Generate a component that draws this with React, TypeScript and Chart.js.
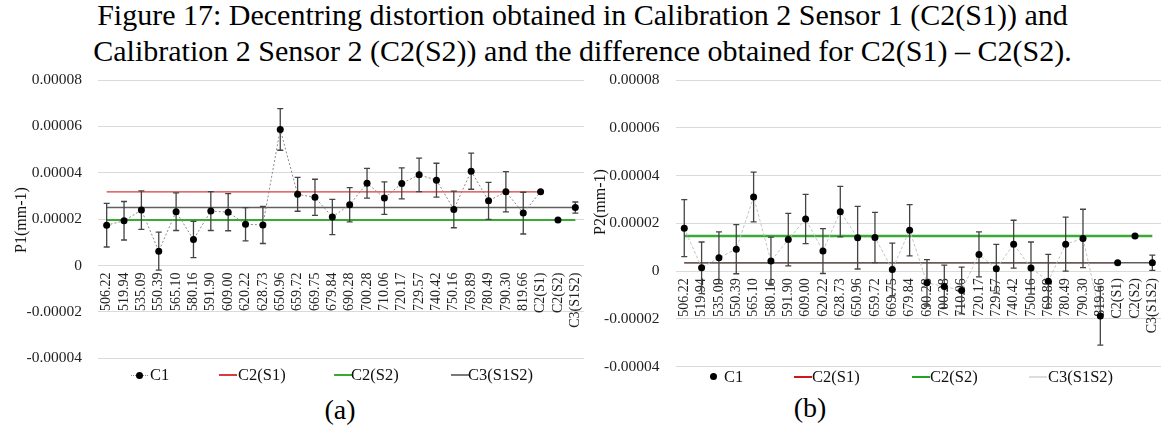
import React, { useEffect, useRef } from 'react';
import { Chart, registerables } from 'chart.js';

Chart.register(...registerables);

const FONT = '"Liberation Serif", "Times New Roman", serif';

// Wavelengths (nm) followed by the summary calibrations
const categories = [
  '506.22', '519.94', '535.09', '550.39', '565.10', '580.16', '591.90', '609.00',
  '620.22', '628.73', '650.96', '659.72', '669.75', '679.84', '690.28', '700.28',
  '710.06', '720.17', '729.57', '740.42', '750.16', '769.89', '780.49', '790.30',
  '819.66', 'C2(S1)', 'C2(S2)', 'C3(S1S2)',
];

// P1 (mm-1), calibration C1 per wavelength, with standard deviations
const p1C1 = [
  1.74e-5, 1.93e-5, 2.39e-5, 0.62e-5, 2.32e-5, 1.12e-5, 2.35e-5, 2.30e-5,
  1.78e-5, 1.75e-5, 5.87e-5, 3.07e-5, 2.94e-5, 2.09e-5, 2.62e-5, 3.55e-5,
  2.91e-5, 3.54e-5, 3.91e-5, 3.68e-5, 2.42e-5, 4.07e-5, 2.79e-5, 3.18e-5,
  2.26e-5,
];
const p1C1Err = [
  0.94e-5, 0.83e-5, 0.83e-5, 0.82e-5, 0.81e-5, 0.78e-5, 0.84e-5, 0.80e-5,
  0.72e-5, 0.80e-5, 0.90e-5, 0.73e-5, 0.78e-5, 0.76e-5, 0.74e-5, 0.64e-5,
  0.70e-5, 0.67e-5, 0.72e-5, 0.73e-5, 0.79e-5, 0.78e-5, 0.80e-5, 0.87e-5,
  0.90e-5,
];
// [C2(S1), C2(S2), C3(S1S2)] and their deviations
const p1Summary = [3.18e-5, 1.96e-5, 2.50e-5];
const p1SummaryErr = [0, 0, 0.24e-5];

// P2 (mm-1)
const p2C1 = [
  1.80e-5, 0.14e-5, 0.56e-5, 0.92e-5, 3.10e-5, 0.42e-5, 1.32e-5, 2.18e-5,
  0.84e-5, 2.49e-5, 1.40e-5, 1.41e-5, 0.07e-5, 1.71e-5, -0.49e-5, -0.64e-5,
  -0.81e-5, 0.70e-5, 0.10e-5, 1.13e-5, 0.13e-5, -0.42e-5, 1.13e-5, 1.37e-5,
  -1.88e-5,
];
const p2C1Err = [
  1.19e-5, 1.08e-5, 1.08e-5, 1.03e-5, 1.04e-5, 1.00e-5, 1.10e-5, 1.03e-5,
  0.94e-5, 1.06e-5, 1.31e-5, 1.05e-5, 1.10e-5, 1.07e-5, 0.97e-5, 0.89e-5,
  0.98e-5, 0.94e-5, 1.02e-5, 1.00e-5, 1.09e-5, 1.12e-5, 1.13e-5, 1.22e-5,
  1.22e-5,
];
const p2Summary = [0.35e-5, 1.47e-5, 0.35e-5];
const p2SummaryErr = [0, 0, 0.32e-5];

// Value axis ticks
const yMin = -0.00004;
const yMax = 0.00008;
const yStep = 0.00002;

const RED = '#d83b3b';
const GREEN = '#3aaa35';
const DARK_GREY = '#5f5f5f';

const errorBarPlugin = {
  id: 'errorBars',
  beforeDatasetDraw(chart: any, args: any) {
    const ds = chart.data.datasets[args.index];
    if (!ds.errors) return;
    const meta = chart.getDatasetMeta(args.index);
    const y = chart.scales.y;
    const ctx = chart.ctx;
    ctx.save();
    ctx.strokeStyle = '#444444';
    ctx.lineWidth = 1.3;
    ds.data.forEach((v: number | null, i: number) => {
      const e = ds.errors[i];
      if (v == null || !e) return;
      const x = meta.data[i].x;
      const top = y.getPixelForValue(v + e);
      const bot = y.getPixelForValue(v - e);
      ctx.beginPath();
      ctx.moveTo(x, top);
      ctx.lineTo(x, bot);
      ctx.moveTo(x - 3, top);
      ctx.lineTo(x + 3, top);
      ctx.moveTo(x - 3, bot);
      ctx.lineTo(x + 3, bot);
      ctx.stroke();
    });
    ctx.restore();
  },
};

type PanelSpec = {
  left: number;
  top: number;
  width: number;
  height: number;
  yAxisWidth: number;
  padding: { left: number; top: number; right: number; bottom: number };
  c1: number[];
  c1Err: number[];
  summary: number[];
  summaryErr: number[];
  c1LinkedTo: number; // last index joined by the C1 trend line
  c1LineColor: string;
  c1Dash: number[];
  greenWidth: number;
};

function buildConfig(s: PanelSpec): any {
  const c1Data = [...s.c1, ...s.summary];
  const c1Err = [...s.c1Err, ...s.summaryErr];
  const s1Line = categories.map((_, i) => (i <= 25 ? s.summary[0] : null));
  const s2Line = categories.map(() => s.summary[1]);
  const c3Line = categories.map(() => s.summary[2]);
  const fmt = (v: number) => (Math.abs(v) < 1e-12 ? '0' : v.toFixed(5));
  return {
    type: 'line',
    data: {
      labels: categories,
      datasets: [
        {
          label: 'C1',
          data: c1Data,
          errors: c1Err,
          order: 0,
          borderColor: s.c1LineColor,
          borderWidth: 1,
          borderDash: s.c1Dash,
          pointRadius: 3.5,
          pointBackgroundColor: '#000000',
          pointBorderColor: '#000000',
          pointBorderWidth: 0,
          segment: {
            borderColor: (ctx: any) => (ctx.p1DataIndex > s.c1LinkedTo ? 'rgba(0,0,0,0)' : undefined),
          },
          tension: 0,
        },
        {
          label: 'C3(S1S2)',
          data: c3Line,
          order: 1,
          borderColor: DARK_GREY,
          borderWidth: 1.6,
          pointRadius: 0,
        },
        {
          label: 'C2(S2)',
          data: s2Line,
          order: 2,
          borderColor: GREEN,
          borderWidth: s.greenWidth,
          pointRadius: 0,
        },
        {
          label: 'C2(S1)',
          data: s1Line,
          order: 3,
          borderColor: RED,
          borderWidth: 1.3,
          pointRadius: 0,
        },
      ],
    },
    options: {
      animation: false,
      responsive: false,
      maintainAspectRatio: false,
      layout: { padding: s.padding },
      plugins: {
        legend: { display: false },
        tooltip: { enabled: false },
        title: { display: false },
      },
      scales: {
        x: {
          type: 'category',
          axis: 'x',
          offset: true,
          position: { y: 0 },
          grid: { display: false, drawTicks: false },
          border: { display: false },
          ticks: {
            autoSkip: false,
            minRotation: 90,
            maxRotation: 90,
            padding: 7,
            color: '#222222',
            font: { family: FONT, size: 14 },
          },
          afterFit: (sc: any) => {
            sc.height = 0;
            sc.paddingLeft = 0;
            sc.paddingRight = 0;
          },
        },
        y: {
          min: yMin,
          max: yMax,
          grid: { color: '#dadada', lineWidth: 1, drawTicks: false },
          border: { display: false },
          ticks: {
            stepSize: yStep,
            padding: 16,
            color: '#222222',
            font: { family: FONT, size: 15.5 },
            callback: (v: any) => fmt(Number(v)),
          },
          afterFit: (sc: any) => {
            sc.width = s.yAxisWidth;
            sc.paddingTop = 0;
            sc.paddingBottom = 0;
          },
        },
      },
    },
    plugins: [errorBarPlugin],
  };
}

function Panel({ spec }: { spec: PanelSpec }) {
  const ref = useRef<HTMLCanvasElement>(null);
  useEffect(() => {
    const chart = new Chart(ref.current as HTMLCanvasElement, buildConfig(spec));
    return () => chart.destroy();
  }, []);
  return (
    <canvas
      ref={ref}
      width={spec.width}
      height={spec.height}
      style={{ position: 'absolute', left: spec.left, top: spec.top, width: spec.width, height: spec.height, display: 'block' }}
    />
  );
}

type LegendEntry = { x: number; textX: number; label: string; kind: 'dotline' | 'dot' | 'line'; color?: string };

function Legend({ y, items }: { y: number; items: LegendEntry[] }) {
  return (
    <>
      {items.map((it) => (
        <React.Fragment key={it.label}>
          {it.kind === 'line' && (
            <div style={{ position: 'absolute', left: it.x, top: y - 1, width: 18, height: 0, borderTop: `2px solid ${it.color}` }} />
          )}
          {it.kind === 'dotline' && (
            <>
              <div style={{ position: 'absolute', left: it.x, top: y - 0.5, width: 17, height: 0, borderTop: '1px dotted #8c8c8c' }} />
              <div style={{ position: 'absolute', left: it.x + 5, top: y - 3.5, width: 7, height: 7, borderRadius: '50%', background: '#000' }} />
            </>
          )}
          {it.kind === 'dot' && (
            <div style={{ position: 'absolute', left: it.x, top: y - 3.5, width: 7, height: 7, borderRadius: '50%', background: '#000' }} />
          )}
          <div style={{ position: 'absolute', left: it.textX, top: y - 10, lineHeight: '20px', fontSize: 16.5, fontFamily: FONT, color: '#111', whiteSpace: 'nowrap' }}>
            {it.label}
          </div>
        </React.Fragment>
      ))}
    </>
  );
}

const panelA: PanelSpec = {
  left: 0, top: 60, width: 600, height: 320, yAxisWidth: 98,
  padding: { left: 0, top: 20, right: 16, bottom: 21.7 },
  c1: p1C1, c1Err: p1C1Err, summary: p1Summary, summaryErr: p1SummaryErr,
  c1LinkedTo: 25, c1LineColor: '#8a8a8a', c1Dash: [2, 2], greenWidth: 2,
};

const panelB: PanelSpec = {
  left: 590, top: 60, width: 575, height: 320, yAxisWidth: 85.6,
  padding: { left: 0, top: 20, right: 2, bottom: 13.3 },
  c1: p2C1, c1Err: p2C1Err, summary: p2Summary, summaryErr: p2SummaryErr,
  c1LinkedTo: 24, c1LineColor: '#c4c4c4', c1Dash: [3, 2], greenWidth: 2.5,
};

const legendA: LegendEntry[] = [
  { x: 131, textX: 150, label: 'C1', kind: 'dotline' },
  { x: 219, textX: 238, label: 'C2(S1)', kind: 'line', color: RED },
  { x: 334, textX: 351, label: 'C2(S2)', kind: 'line', color: GREEN },
  { x: 451, textX: 468, label: 'C3(S1S2)', kind: 'line', color: '#7a7a7a' },
];

const legendB: LegendEntry[] = [
  { x: 709.5, textX: 724, label: 'C1', kind: 'dot' },
  { x: 794, textX: 812, label: 'C2(S1)', kind: 'line', color: '#d01818' },
  { x: 912, textX: 930, label: 'C2(S2)', kind: 'line', color: '#22a322' },
  { x: 1029, textX: 1048, label: 'C3(S1S2)', kind: 'line', color: '#dcdcdc' },
];

function AxisTitle({ text, cx, cy }: { text: string; cx: number; cy: number }) {
  return (
    <div
      style={{
        position: 'absolute', left: cx - 60, top: cy - 10, width: 120, height: 20,
        lineHeight: '20px', textAlign: 'center', fontFamily: FONT, fontSize: 16, color: '#111',
        transform: 'rotate(-90deg)', whiteSpace: 'nowrap',
      }}
    >
      {text}
    </div>
  );
}

export default function App() {
  return (
    <div style={{ position: 'absolute', left: 0, top: 0, width: 1165, height: 429, background: '#fff', overflow: 'hidden' }}>
      <div style={{ position: 'absolute', left: 0, top: -3, width: 1165, textAlign: 'center', fontFamily: FONT, fontSize: 30, lineHeight: '36px', color: '#000' }}>
        <div>Figure 17: Decentring distortion obtained in Calibration 2 Sensor 1 (C2(S1)) and</div>
        <div>Calibration 2 Sensor 2 (C2(S2)) and the difference obtained for C2(S1) – C2(S2).</div>
      </div>
      <Panel spec={panelA} />
      <Panel spec={panelB} />
      <AxisTitle text="P1(mm-1)" cx={21} cy={220} />
      <AxisTitle text="P2(mm-1)" cx={600} cy={202} />
      <Legend y={375.3} items={legendA} />
      <Legend y={376.7} items={legendB} />
      <div style={{ position: 'absolute', left: 290, top: 392, width: 100, textAlign: 'center', fontFamily: FONT, fontSize: 28, lineHeight: '36px' }}>(a)</div>
      <div style={{ position: 'absolute', left: 760, top: 390, width: 100, textAlign: 'center', fontFamily: FONT, fontSize: 28, lineHeight: '36px' }}>(b)</div>
    </div>
  );
}
